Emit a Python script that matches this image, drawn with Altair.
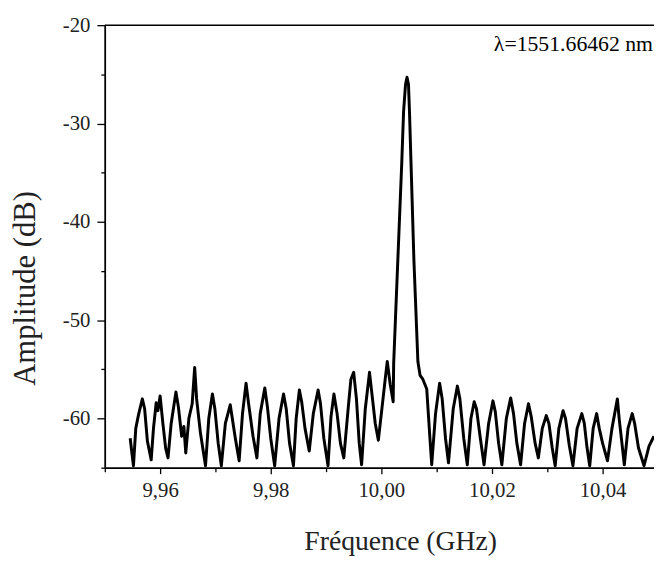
import altair as alt
import pandas as pd

freq = [9.95459, 9.95490, 9.95518, 9.95560, 9.95610, 9.95679, 9.95720, 9.95770, 9.95839, 9.95880,
        9.95929, 9.95960, 9.96000, 9.96050, 9.96100, 9.96143, 9.96200, 9.96286, 9.96330, 9.96390,
        9.96430, 9.96464, 9.96520, 9.96580, 9.96625, 9.96660, 9.96730, 9.96821, 9.96880, 9.96946,
        9.96990, 9.97050, 9.97107, 9.97180, 9.97268, 9.97300, 9.97360, 9.97429, 9.97490, 9.97554,
        9.97600, 9.97680, 9.97750, 9.97810, 9.97893, 9.97940, 9.98000, 9.98071, 9.98150, 9.98232,
        9.98280, 9.98340, 9.98411, 9.98460, 9.98518, 9.98560, 9.98620, 9.98696, 9.98770, 9.98857,
        9.98900, 9.98960, 9.99036, 9.99090, 9.99143, 9.99200, 9.99260, 9.99321, 9.99400, 9.99450,
        9.99500, 9.99550, 9.99600, 9.99643, 9.99710, 9.99786, 9.99830, 9.99890, 9.99946, 10.00020,
        10.00070, 10.00107, 10.00160, 10.00214,
        10.00223, 10.00298, 10.00370, 10.00402, 10.00438, 10.00464, 10.00491, 10.00509, 10.00536,
        10.00589, 10.00661,
        10.00700, 10.00750, 10.00821, 10.00875, 10.00911, 10.00980, 10.01054, 10.01100, 10.01160,
        10.01214, 10.01300, 10.01375, 10.01420, 10.01490, 10.01554, 10.01620, 10.01679, 10.01720,
        10.01790, 10.01857, 10.01940, 10.02018, 10.02060, 10.02120, 10.02179, 10.02260, 10.02339,
        10.02390, 10.02450, 10.02518, 10.02590, 10.02661, 10.02710, 10.02780, 10.02839, 10.02910,
        10.02982, 10.03030, 10.03090, 10.03143, 10.03210, 10.03286, 10.03330, 10.03400, 10.03464,
        10.03540, 10.03625, 10.03670, 10.03720, 10.03768, 10.03830, 10.03893, 10.03940, 10.04000,
        10.04089, 10.04170, 10.04268, 10.04300, 10.04350, 10.04393, 10.04460, 10.04536, 10.04580,
        10.04650, 10.04750, 10.04840, 10.04929]
amp = [-62.0, -63.5, -64.8, -61.0, -59.6, -58.0, -59.0, -62.3, -64.2, -61.0,
       -58.4, -59.2, -57.7, -60.5, -63.0, -64.0, -60.5, -57.3, -58.8, -61.8,
       -60.8, -63.5, -60.0, -58.5, -54.8, -58.0, -61.5, -64.8, -60.0, -57.5,
       -59.0, -62.5, -64.8, -60.5, -58.6, -59.8, -62.0, -64.3, -59.5, -56.4,
       -58.5, -61.8, -64.0, -59.5, -56.9, -58.8, -62.0, -64.8, -60.0, -57.5,
       -59.0, -62.5, -64.8, -60.0, -57.1, -58.3, -61.0, -63.3, -59.5, -57.1,
       -58.5, -62.0, -64.8, -59.8, -57.5, -59.5, -62.5, -64.0, -59.0, -56.0,
       -55.3, -58.0, -62.5, -64.7, -59.0, -55.3, -57.5, -60.5, -62.2, -58.5,
       -56.0, -54.2, -56.5, -58.3,
       -54.4, -43.9, -33.9, -28.8, -26.0, -25.3, -26.0, -28.8, -33.9,
       -43.9, -54.2,
       -55.6, -56.0, -57.0, -61.7, -64.7, -59.5, -56.4, -58.0, -62.0,
       -64.5, -59.0, -56.7, -58.0, -62.0, -64.7, -60.0, -58.3, -59.0,
       -62.0, -64.7, -60.5, -58.2, -59.3, -62.5, -64.7, -60.0, -57.9,
       -59.5, -62.5, -64.7, -60.5, -58.5, -59.8, -62.5, -64.0, -61.0,
       -59.7, -60.5, -63.0, -64.8, -61.0, -59.2, -60.0, -62.8, -64.8,
       -61.0, -59.5, -60.5, -63.0, -64.8, -61.0, -59.5, -61.0, -62.5,
       -64.3, -61.0, -58.0, -60.0, -62.5, -64.7, -61.0, -59.5, -60.5,
       -63.0, -64.8, -62.8, -61.8]

x_major = [9.96, 9.98, 10.00, 10.02, 10.04]
x_minor = [9.95, 9.97, 9.99, 10.01, 10.03]
y_major = [-20, -30, -40, -50, -60]
y_minor = [-25, -35, -45, -55, -65]
label_text = "λ=1551.66462 nm"

df = pd.DataFrame({"f": freq, "a": amp})
FONT = "Liberation Serif"
xdom = [9.95, 10.0493]
ydom = [-65, -20]

xs = alt.Scale(domain=xdom, nice=False, zero=False)
ys = alt.Scale(domain=ydom, nice=False, zero=False)

line = alt.Chart(df).mark_line(color="black", strokeWidth=3, clip=True,
                               strokeJoin="round").encode(
    x=alt.X("f:Q", scale=xs, title="Fréquence (GHz)",
            axis=alt.Axis(orient="bottom", values=x_major, tickSize=6, grid=False,
                          labelExpr="replace(format(datum.value, '.2f'), '.', ',')",
                          labelFontSize=21, labelPadding=6, titleFontSize=28,
                          titleFontWeight="normal", titleX=299, titleY=75,
                          titleBaseline="middle")),
    y=alt.Y("a:Q", scale=ys, title="Amplitude (dB)",
            axis=alt.Axis(orient="left", values=y_major, tickSize=8, grid=False,
                          labelExpr="'' + datum.value", labelFontSize=21, labelPadding=7,
                          titleFontSize=31, titleFontWeight="normal", titleX=-80,
                          titleY=266, titleBaseline="middle")),
)

minor = alt.Chart(df).mark_point(opacity=0).encode(
    x=alt.X("f:Q", scale=xs, title=None,
            axis=alt.Axis(orient="bottom", values=x_minor, tickSize=4, labels=False, grid=False)),
    y=alt.Y("a:Q", scale=ys, title=None,
            axis=alt.Axis(orient="left", values=y_minor, tickSize=4, labels=False, grid=False)),
)

top = alt.Chart(pd.DataFrame({"y": [-20]})).mark_rule(color="black", strokeWidth=1.5).encode(
    y=alt.Y("y:Q", scale=ys, axis=None)
)

label = alt.Chart(pd.DataFrame({"t": [label_text], "x": [xdom[1]], "y": [-21.9]})).mark_text(
    align="right", baseline="middle", fontSize=22, font=FONT, color="black", dx=-1
).encode(x=alt.X("x:Q", scale=xs, axis=None), y=alt.Y("y:Q", scale=ys, axis=None), text="t:N")

chart = alt.layer(line, minor, top, label).resolve_axis(x="independent", y="independent").properties(
    width=556, height=448,
    autosize=alt.AutoSizeParams(type="none"),
    padding={"left": 98, "top": 14, "right": 0, "bottom": 88},
).configure_view(stroke=None).configure_axis(
    domainColor="black", domainWidth=1.5, tickColor="black", tickWidth=1.3,
    labelColor="#222", titleColor="#222", labelFont=FONT, titleFont=FONT,
)

chart.save("out.html", embed_options={"renderer": "svg", "actions": False})
